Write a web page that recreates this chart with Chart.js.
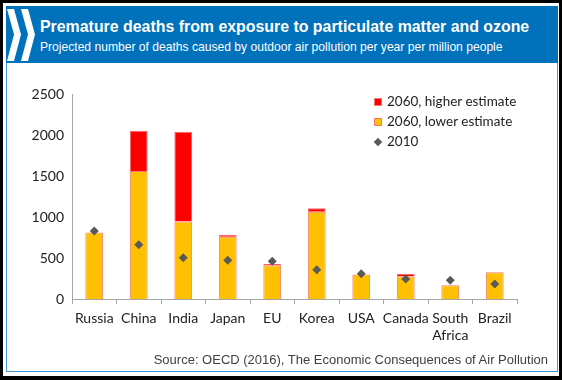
<!DOCTYPE html>
<html><head><meta charset="utf-8">
<script src="https://cdn.jsdelivr.net/npm/chart.js@4.4.1/dist/chart.umd.min.js"></script>
<style>
html,body{margin:0;padding:0;background:#000;width:562px;height:380px;overflow:hidden;}
#frame{position:absolute;left:3px;top:3px;width:556px;height:373px;background:#fff;}
#box{position:absolute;left:6px;top:6px;width:550px;height:364px;border:1px solid #3C9AD9;background:#fff;}
#head{position:absolute;left:6px;top:6px;width:552px;height:57px;background:#0071BB;}
#title{position:absolute;left:34px;top:12px;color:#fff;font:bold 15.9px "Liberation Sans",Arial,sans-serif;white-space:nowrap;}
#sub{position:absolute;left:34px;top:34px;color:#fff;font:12.1px "Liberation Sans",Arial,sans-serif;white-space:nowrap;}
#chev{position:absolute;left:0;top:0;}
#wrap{position:absolute;left:6px;top:64px;width:552px;height:295px;}
#legend{position:absolute;left:374px;top:91px;font:13.5px Lato,sans-serif;color:#222;}
#legend div{height:20px;line-height:20px;white-space:nowrap;}
#legend span.sw{display:inline-block;width:8px;height:8px;margin-right:5px;vertical-align:0px;}
#legend span.dm{display:inline-block;width:6px;height:6px;background:#595959;transform:rotate(45deg);margin:0 6px 0 1px;vertical-align:1px;}
#source{position:absolute;right:14px;top:352px;font:13px "Liberation Sans",Arial,sans-serif;color:#404040;white-space:nowrap;}
</style></head>
<body>
<div id="frame"></div>
<div id="box"></div>
<div id="head">
<svg id="chev" width="40" height="57" viewBox="0 0 40 57">
<polygon points="1,3 8,3 15,28.5 8,55 1,55 8,28.5" fill="#fff"/>
<polygon points="15,3 22,3 29,28.5 22,55 15,55 22,28.5" fill="#fff"/>
</svg>
<div id="title">Premature deaths from exposure to particulate matter and ozone</div>
<div id="sub">Projected number of deaths caused by outdoor air pollution per year per million people</div>
</div>
<div id="wrap"><canvas id="c"></canvas></div>
<div id="legend"></div>
<div id="source">Source: OECD (2016), The Economic Consequences of Air Pollution</div>
<script>
const categories = ['Russia','China','India','Japan','EU','Korea','USA','Canada',['South','Africa'],'Brazil'];
const lower2060 = [810, 1560, 945, 760, 412, 1065, 298, 277, 167, 325];
const higher2060 = [812, 2053, 2041, 784, 427, 1106, 302, 305, 168, 327];
const deaths2010 = [830, 662, 504, 472, 460, 357, 309, 244, 228, 183];
const yTicks = [0, 500, 1000, 1500, 2000, 2500];

const extra = higher2060.map((h,i)=>Math.max(0, h - lower2060[i]));

const datasets = [
  {type:'bar', label:'2060, lower estimate', data:lower2060, backgroundColor:'#FFC000', borderColor:'#F47A6A', borderWidth:1, stack:'a', order:1, barPercentage:0.4, categoryPercentage:1},
  {type:'bar', label:'2060, higher estimate', data:extra, backgroundColor:'#FF0000', borderColor:'#F46A6A', borderWidth:1, stack:'a', order:2, barPercentage:0.4, categoryPercentage:1},
  {type:'line', label:'2010', data:deaths2010, showLine:false, pointStyle:'rectRot', pointRadius:4.5, pointHoverRadius:4.5,
   backgroundColor:'#595959', borderColor:'#595959', borderWidth:0, stack:'pts', order:0}
];

new Chart(document.getElementById('c'), {
  data:{labels:categories, datasets},
  options:{
    responsive:true, maintainAspectRatio:false, animation:false,
    layout:{padding:{top:30,left:26,right:41,bottom:0}},
    plugins:{legend:{display:false}, tooltip:{enabled:false}},
    scales:{
      x:{stacked:true, grid:{display:true, drawOnChartArea:false, drawTicks:true, tickLength:5, color:'#A6A6A6', offset:true},
         border:{color:'#A6A6A6'},
         ticks:{color:'#222', font:{family:'Lato', size:14}, padding:6, maxRotation:0, autoSkip:false},
         afterFit(s){s.height=60;}},
      y:{stacked:true, min:0, max:2500, grid:{display:false, drawTicks:false},
         border:{color:'#A6A6A6'},
         afterBuildTicks(s){s.ticks = yTicks.map(v=>({value:v}));},
         ticks:{color:'#222', font:{family:'Lato', size:14}, padding:8, callback:(v)=>String(v)},
         afterFit(s){s.width=40;}}
    }
  }
});

const leg = document.getElementById('legend');
[['2060, higher estimate','sw','#FF0000'],['2060, lower estimate','sw','#FFC000'],['2010','dm','#595959']].forEach(([t,k,c])=>{
  const d=document.createElement('div');
  const s=document.createElement('span'); s.className=k; if(k==='sw'){s.style.background=c; s.style.outline='1px solid #F47A6A'; s.style.outlineOffset='-1px';}
  d.appendChild(s); d.appendChild(document.createTextNode(t)); leg.appendChild(d);
});
</script>
</body></html>
